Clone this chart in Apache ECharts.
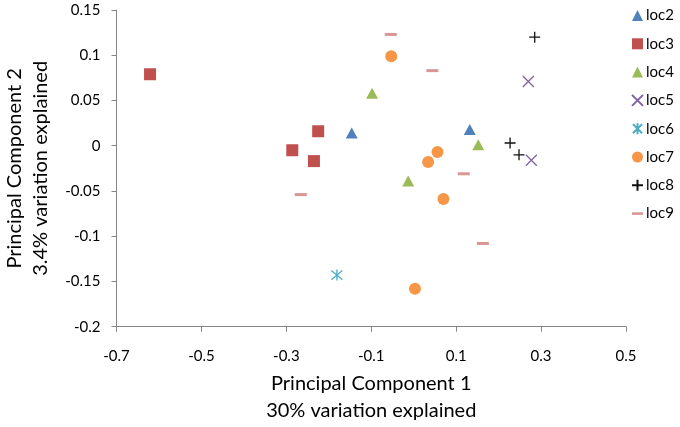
<!DOCTYPE html>
<html>
<head>
<meta charset="utf-8">
<script src="https://cdn.jsdelivr.net/npm/echarts@6/dist/echarts.min.js"></script>
<style>html,body{margin:0;padding:0;background:#fff;}#c{width:680px;height:427px;}</style>
</head>
<body>
<div id="c"></div>
<script>
const seriesNames = ['loc2','loc3','loc4','loc5','loc6','loc7','loc8','loc9'];
const loc2 = [[-0.146, 0.014], [0.132, 0.018]];
const loc3 = [[-0.621, 0.079], [-0.286, -0.005], [-0.225, 0.016], [-0.235, -0.017]];
const loc4 = [[-0.098, 0.058], [0.152, 0.001], [-0.013, -0.039]];
const loc5 = [[0.270, 0.071], [0.277, -0.016]];
const loc6 = [[-0.181, -0.143]];
const loc7 = [[-0.053, 0.099], [0.034, -0.018], [0.056, -0.007], [0.070, -0.059], [0.003, -0.158]];
const loc8 = [[0.285, 0.120], [0.227, 0.003], [0.248, -0.010]];
const loc9 = [[-0.054, 0.123], [0.044, 0.083], [0.118, -0.031], [-0.266, -0.054], [0.163, -0.108]];
const xTicks = [-0.7, -0.5, -0.3, -0.1, 0.1, 0.3, 0.5];
const yTicks = [-0.2, -0.15, -0.1, -0.05, 0, 0.05, 0.1, 0.15];

const dataSets = [loc2, loc3, loc4, loc5, loc6, loc7, loc8, loc9];
const FONT = 'Lato';
const X_PATH = 'path://M0 0L10 10M10 0L0 10';
const STAR_PATH = 'path://M0 0L10 10M10 0L0 10M5 -1L5 11';
const PLUS_PATH = 'path://M5 0L5 10M0 5L10 5';
const DASH_ICON = 'path://M0 0M0 4.6L12 4.6L12 7.4L0 7.4ZM12 12';
const styles = [
  {symbol: 'triangle', size: [12, 11], color: '#4F81BD', filled: true, icon: 'triangle'},
  {symbol: 'rect', size: 12, color: '#C0504D', filled: true, icon: 'rect'},
  {symbol: 'triangle', size: [12, 11], color: '#9BBB59', filled: true, icon: 'triangle'},
  {symbol: X_PATH, size: 11, color: '#8064A2', filled: false, icon: X_PATH},
  {symbol: STAR_PATH, size: 11, color: '#4BACC6', filled: false, icon: STAR_PATH},
  {symbol: 'circle', size: 12, color: '#F79646', filled: true, icon: 'circle'},
  {symbol: PLUS_PATH, size: 11, color: '#111111', filled: false, icon: PLUS_PATH},
  {symbol: 'rect', size: [12, 3], color: '#D99694', filled: true, icon: DASH_ICON}
];

const series = seriesNames.map((n, i) => {
  const s = styles[i];
  return {
    name: n,
    type: 'scatter',
    data: dataSets[i],
    symbol: s.symbol,
    symbolSize: s.size,
    itemStyle: s.filled ? {color: s.color, opacity: 1} :
      {color: 'rgba(0,0,0,0)', borderColor: s.color, borderWidth: 1.3, opacity: 1},
    emphasis: {disabled: true}
  };
});

const chart = echarts.init(document.getElementById('c'), null, {renderer: 'canvas'});
chart.setOption({
  animation: false,
  backgroundColor: '#ffffff',
  grid: {left: 116.5, right: 54, top: 10, bottom: 100.3, containLabel: false, outerBoundsMode: 'none'},
  legend: {
    orient: 'vertical',
    left: 631,
    top: 8,
    padding: 0,
    itemGap: 13.3,
    itemWidth: 11,
    itemHeight: 11,
    textStyle: {fontFamily: FONT, fontSize: 15, color: '#000', padding: [0, 0, 0, -2]},
    data: seriesNames.map((n, i) => ({name: n, icon: styles[i].icon}))
  },
  xAxis: {
    type: 'value',
    min: -0.7, max: 0.5, interval: 0.2,
    splitLine: {show: false},
    axisLine: {onZero: false, lineStyle: {color: '#868686', width: 1}},
    axisTick: {show: true, length: 5, lineStyle: {color: '#868686'}},
    axisLabel: {fontFamily: FONT, fontSize: 15, color: '#000', margin: 22,
      formatter: v => { const f = xTicks.find(t => Math.abs(t - v) < 1e-9); return f === undefined ? '' : String(f); }},
    name: 'Principal Component 1\n30% variation explained',
    nameLocation: 'middle',
    nameGap: 43,
    nameTextStyle: {fontFamily: FONT, fontSize: 20, color: '#000', lineHeight: 27, verticalAlign: 'top'}
  },
  yAxis: {
    type: 'value',
    min: -0.2, max: 0.15, interval: 0.05,
    splitLine: {show: false},
    axisLine: {onZero: false, lineStyle: {color: '#868686', width: 1}},
    axisTick: {show: true, length: 5, lineStyle: {color: '#868686'}},
    axisLabel: {fontFamily: FONT, fontSize: 15, color: '#000', margin: 16,
      formatter: v => { const f = yTicks.find(t => Math.abs(t - v) < 1e-9); return f === undefined ? '' : String(f); }},
    name: 'Principal Component 2\n3.4% variation explained',
    nameLocation: 'middle',
    nameRotate: 90,
    nameGap: 63,
    nameTextStyle: {fontFamily: FONT, fontSize: 20, color: '#000', lineHeight: 26}
  },
  series: series
});
</script>
</body>
</html>
